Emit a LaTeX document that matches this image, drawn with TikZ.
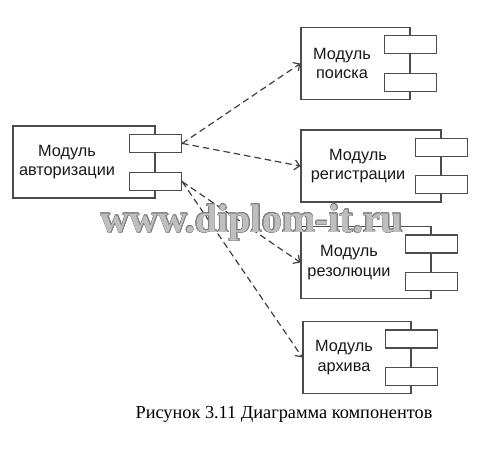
\documentclass[tikz,border=0pt]{standalone}
\usepackage{fontspec}
\setmainfont{Liberation Serif}
\setsansfont{Liberation Sans}
\usepackage[copies]{contour}
\contourlength{0.6pt}
\usetikzlibrary{arrows.meta,positioning}

\tikzset{
    comp/.style={draw=black!70, line width=1.2pt, fill=white, inner sep=0pt, minimum height=72pt},
    port/.style={draw=black!70, line width=1.2pt, fill=white, inner sep=0pt, minimum width=52pt, minimum height=18pt},
    compname/.style={font=\sffamily\fontsize{16.3}{19.5}\selectfont, align=center, text=black!90},
    dep/.style={dash pattern=on 6.5pt off 4pt, draw=black!75, line width=1.2pt, -{Straight Barb[length=5pt,width=10pt]}}
}

\begin{document}
\begin{tikzpicture}[x=1pt, y=-1pt]

% Page frame
\fill[white] (0,0) rectangle (500,460);
\useasboundingbox (0,0) rectangle (500,460);

% Authorization component
\node[comp, minimum width=142pt] (auth) at (84,162) {};
\node[compname] (authname) at (67,162) {Модуль\\авторизации};
\node[port] (authp1) at ([yshift=-18pt]auth.north east) {};
\node[port] (authp2) at ([yshift=17pt]auth.south east) {};

% Other components
\foreach \name/\cx/\cy/\w/\tx/\lbl in {search/355.5/63.5/109/342/поиска,
        reg/371/166/140/358/регистрации,
        res/366/262.5/130/349/резолюции,
        arch/357/357.5/108/344/архива} {
    \node[comp, minimum width={\w pt}] (\name) at (\cx,\cy) {};
    \node[compname] (\name name) at (\tx,\cy) {Модуль\\\lbl};
    \node[port] (\name p1) at ([yshift=-18pt]\name.north east) {};
    \node[port] (\name p2) at ([yshift=18pt]\name.south east) {};
}

% Dependencies
\draw[dep] (authp1.east) -- (search.west);
\draw[dep] (authp1.east) -- (reg.west);
\draw[dep] (authp2.east) -- (res.west);
\draw[dep] (authp2.east) -- (arch.west);

% Watermark and caption
\node[font=\bfseries\fontsize{40}{42}\selectfont, inner sep=0pt] (wmark) at (252,223) {\contour{black!50}{\textcolor{black!25}{www.diplom-it.ru}}};
\node[font=\fontsize{18.3}{21}\selectfont] (caption) at (284,414) {Рисунок 3.11 Диаграмма компонентов};

\end{tikzpicture}
\end{document}
